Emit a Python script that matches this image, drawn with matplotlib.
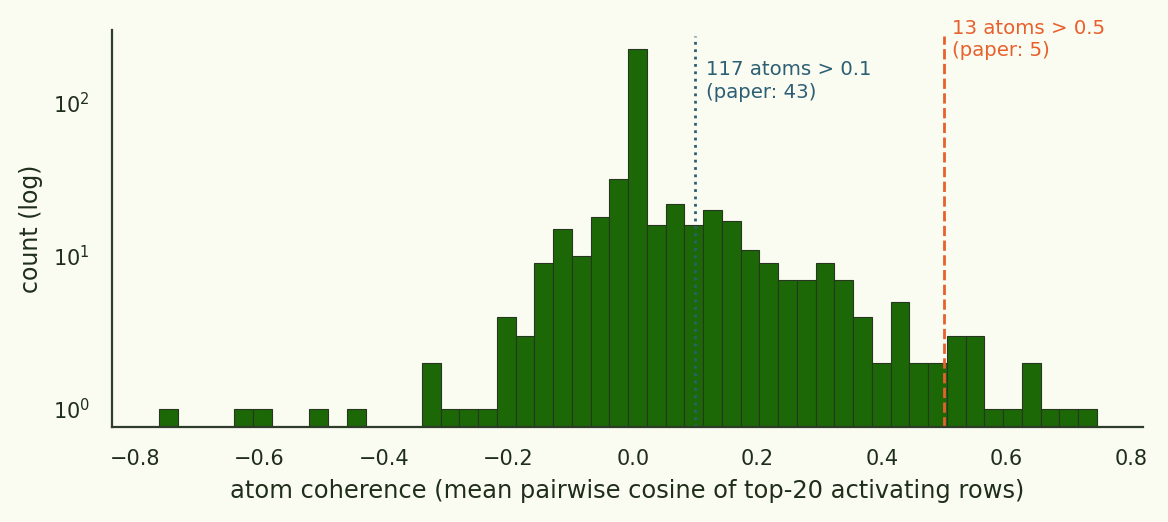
import numpy as np
import matplotlib.pyplot as plt

# histogram of atom coherence, 50 equal bins between min and max
bin_lo = -0.761
bin_hi = 0.745
counts = [1, 0, 0, 0, 1, 1, 0, 0, 1, 0,
          1, 0, 0, 0, 2, 1, 1, 1, 4, 3,
          9, 15, 10, 18, 32, 225, 16, 22, 16, 20,
          17, 11, 9, 7, 7, 9, 7, 4, 2, 5,
          2, 2, 3, 3, 1, 1, 2, 1, 1, 1]
thresholds = [0.1, 0.5]
threshold_labels = ["117 atoms > 0.1\n(paper: 43)", "13 atoms > 0.5\n(paper: 5)"]

bg = "#fafbf1"
ink = "#1f2e1b"
bar_color = "#1c6807"
blue = "#2d5f74"
orange = "#e8602c"

edges = np.linspace(bin_lo, bin_hi, len(counts) + 1)
counts = np.array(counts, dtype=float)

fig = plt.figure(figsize=(11.68, 5.22), dpi=100, facecolor=bg)
ax = fig.add_axes([0.0959, 0.182, 0.8827, 0.7605])
ax.set_facecolor(bg)

ax.hist(edges[:-1], bins=edges, weights=counts, color=bar_color,
        edgecolor="#26361f", linewidth=0.8)
ax.set_yscale("log")
ax.set_ylim(0.763, 300)
ax.set_xlim(-0.837, 0.819)

ax.axvline(thresholds[0], ymax=0.985, color=blue, linestyle=":", linewidth=2)
ax.axvline(thresholds[1], ymax=0.985, color=orange, linestyle="--", linewidth=2)

ax.text(thresholds[0] + 0.017, 0.924, threshold_labels[0], transform=ax.get_xaxis_transform(),
        color=blue, fontsize=14.2, va="top", ha="left", linespacing=1.24)
ax.text(thresholds[1] + 0.012, 1.028, threshold_labels[1], transform=ax.get_xaxis_transform(),
        color=orange, fontsize=14.2, va="top", ha="left", linespacing=1.24)

for s in ["top", "right"]:
    ax.spines[s].set_visible(False)
for s in ["left", "bottom"]:
    ax.spines[s].set_color("#2d3d29")
    ax.spines[s].set_linewidth(1.6)

ax.tick_params(axis="both", length=0, pad=16, labelsize=15, labelcolor=ink)
ax.minorticks_off()
ax.set_xticks(np.arange(-0.8, 0.81, 0.2))
ax.set_xlabel("atom coherence (mean pairwise cosine of top-20 activating rows)",
              fontsize=17.4, color=ink, labelpad=7)
ax.set_ylabel("count (log)", fontsize=17, color=ink, labelpad=7)

fig.savefig("out.png", dpi=100, facecolor=bg)
